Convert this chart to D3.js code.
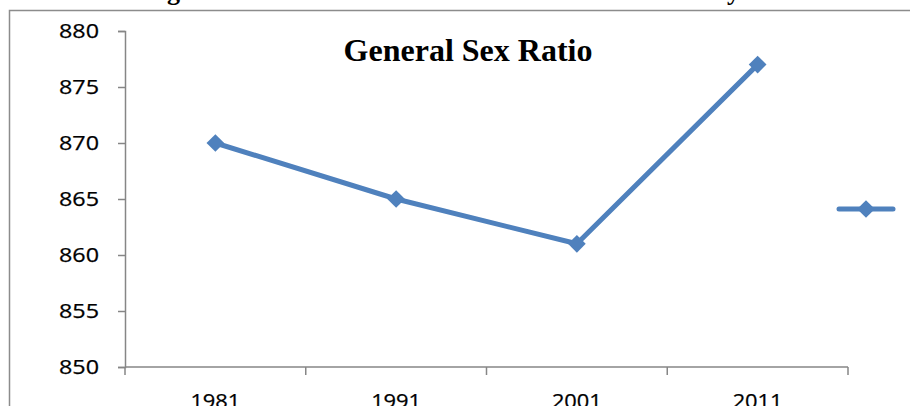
<!DOCTYPE html>
<html>
<head>
<meta charset="utf-8">
<script src="https://cdn.jsdelivr.net/npm/d3@7"></script>
<style>
  body { margin: 0; background: #fff; }
</style>
</head>
<body>
<script>
// Chart data
var years = ["1981", "1991", "2001", "2011"];
var sexRatio = [870, 865, 861, 877];
var yTicks = [850, 855, 860, 865, 870, 875, 880];

var w = 910;
var h = 406;

// Plot area (avoid the name "top", it is window.top)
var plotLeft = 125, plotRight = 848, plotTop = 31, plotBottom = 367;

var svg = d3.select("body")
            .append("svg")
            .attr("width", w)
            .attr("height", h);

// cut-off caption above the chart frame (only descenders visible)
svg.append("text").attr("x", 167).attr("y", 0).text("g")
    .attr("font-family", "Liberation Serif").attr("font-weight", "bold").attr("font-size", "26px");
svg.append("text").attr("x", 727).attr("y", 0).text("y")
    .attr("font-family", "Liberation Serif").attr("font-weight", "bold").attr("font-size", "26px");

// chart frame
svg.append("rect")
    .attr("x", 9.5).attr("y", 10.5)
    .attr("width", 1000).attr("height", 1000)
    .attr("fill", "none")
    .attr("stroke", "#8c8c8c")
    .attr("stroke-width", 1.5);

var xScale = d3.scaleBand()
               .domain(years)
               .range([plotLeft, plotRight]);

var yScale = d3.scaleLinear()
               .domain([850, 880])
               .range([plotBottom, plotTop]);

// y axis
var yAxis = d3.axisLeft(yScale).tickValues(yTicks).tickSize(7).tickPadding(19);
var gy = svg.append("g").attr("transform", "translate(" + plotLeft + ",0)").call(yAxis);
gy.select(".domain").attr("stroke", "#868686").attr("stroke-width", 1.5);
gy.selectAll(".tick line").attr("stroke", "#868686").attr("stroke-width", 1.5);
gy.selectAll(".tick text")
    .attr("font-family", "Open Sans")
    .attr("font-size", "19.5px")
    .attr("fill", "#000")
    .attr("stroke", "#000")
    .attr("stroke-width", 0.25)
    .attr("textLength", 40)
    .attr("lengthAdjust", "spacingAndGlyphs");

// x axis with ticks on band edges
var gx = svg.append("g").attr("transform", "translate(0," + plotBottom + ")");
gx.append("line")
    .attr("x1", plotLeft).attr("x2", plotRight)
    .attr("stroke", "#868686").attr("stroke-width", 1.5);
var edges = years.map(function(d) { return xScale(d); }).concat([xScale.range()[1]]);
gx.selectAll(".edge")
    .data(edges)
    .enter()
    .append("line")
    .attr("x1", function(d) { return d; })
    .attr("x2", function(d) { return d; })
    .attr("y1", 0).attr("y2", 8)
    .attr("stroke", "#868686").attr("stroke-width", 1.5);
gx.selectAll(".lbl")
    .data(years)
    .enter()
    .append("text")
    .attr("x", function(d) { return xScale(d) + xScale.bandwidth() / 2; })
    .attr("y", 41)
    .attr("text-anchor", "middle")
    .attr("font-family", "Open Sans")
    .attr("font-size", "19.5px")
    .attr("stroke", "#000")
    .attr("stroke-width", 0.25)
    .attr("textLength", 50)
    .attr("lengthAdjust", "spacingAndGlyphs")
    .text(function(d) { return d; });

// title
svg.append("text")
    .attr("x", 468).attr("y", 61)
    .attr("text-anchor", "middle")
    .attr("font-family", "Liberation Serif")
    .attr("font-weight", "bold")
    .attr("font-size", "32px")
    .text("General Sex Ratio");

var color = "#4f81bd";
var line = d3.line()
             .x(function(d, i) { return xScale(years[i]) + xScale.bandwidth() / 2; })
             .y(function(d) { return yScale(d); });

svg.append("path")
    .datum(sexRatio)
    .attr("d", line)
    .attr("fill", "none")
    .attr("stroke", color)
    .attr("stroke-width", 5)
    .attr("stroke-linejoin", "round");

var diamond = d3.symbol().type(d3.symbolDiamond2).size(200);

svg.selectAll(".pt")
    .data(sexRatio)
    .enter()
    .append("path")
    .attr("d", diamond)
    .attr("transform", function(d, i) {
        return "translate(" + (xScale(years[i]) + xScale.bandwidth() / 2) + "," + yScale(d) + ")";
    })
    .attr("fill", color);

// legend (line + marker, no label)
var lg = svg.append("g").attr("transform", "translate(866,209)");
lg.append("line")
    .attr("x1", -27).attr("x2", 27)
    .attr("stroke", color).attr("stroke-width", 5)
    .attr("stroke-linecap", "round");
lg.append("path").attr("d", diamond).attr("fill", color);
</script>
</body>
</html>
